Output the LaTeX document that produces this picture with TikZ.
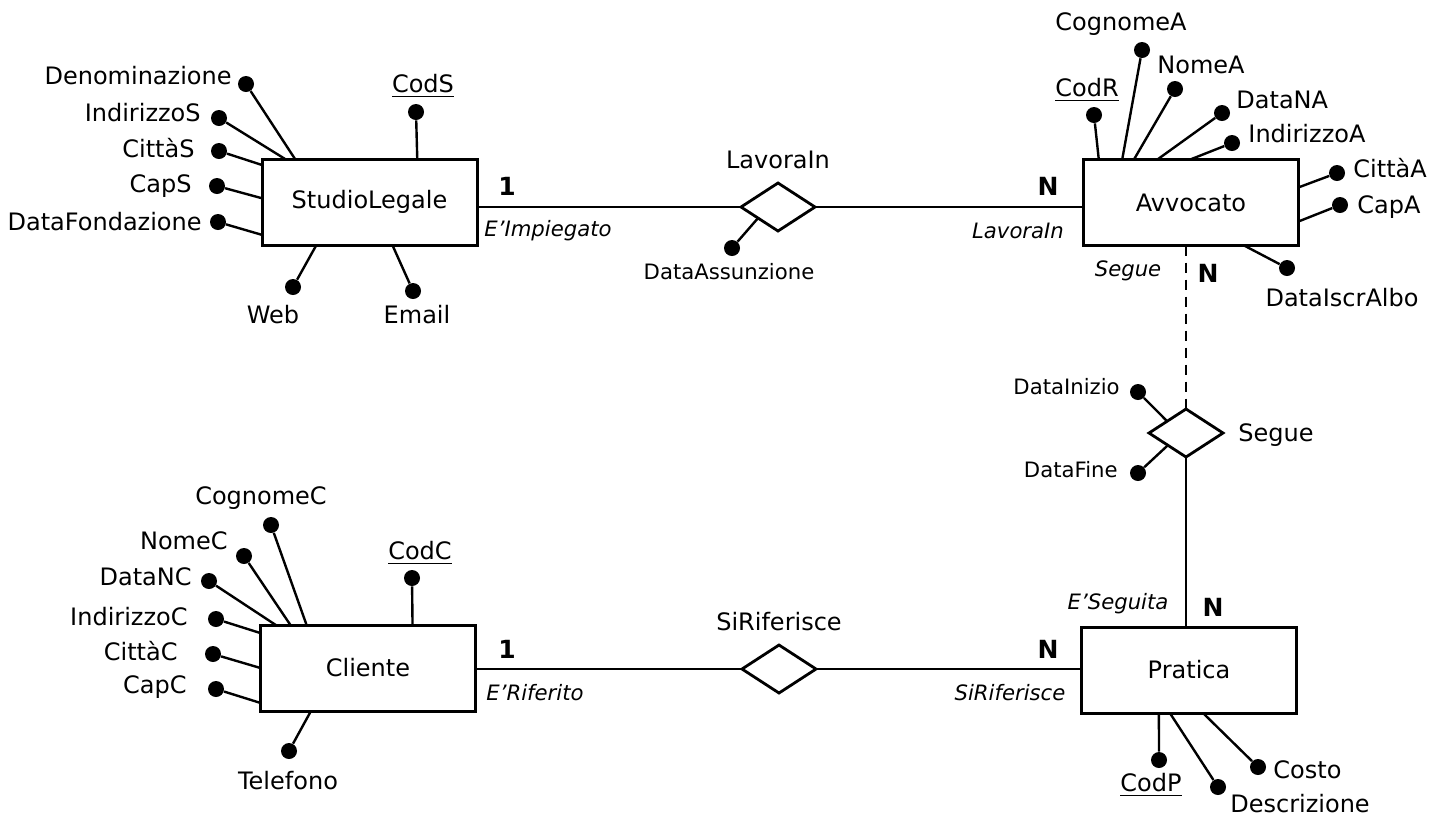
\documentclass[tikz,border=0pt]{standalone}
\usepackage{fontspec}
\setmainfont{DejaVu Sans}
\usetikzlibrary{shapes.geometric}
\tikzset{
  entity/.style={draw, line width=1.5pt, minimum width=107.5pt, minimum height=43pt, inner sep=0pt, outer sep=0pt, font=\fontsize{12}{14}\selectfont},
  relation/.style={draw, diamond, line width=1.4pt, minimum width=37pt, minimum height=24pt, inner sep=0pt, outer sep=0pt},
  attrdot/.style={circle, fill, inner sep=0pt, minimum size=8pt},
  attr/.style={inner sep=0pt, font=\fontsize{12}{14}\selectfont},
  smallattr/.style={inner sep=0pt, font=\fontsize{10.6}{12.6}\selectfont},
  card/.style={inner sep=0pt, font=\fontsize{12.5}{14}\selectfont\bfseries},
  role/.style={inner sep=0pt, font=\fontsize{10.6}{12.6}\selectfont\itshape},
  conn/.style={line width=1.2pt}
}
\begin{document}
\begin{tikzpicture}[x=0.5pt, y=-0.5pt]
  \useasboundingbox (0,0) rectangle (1443,816);
  % entities and relationships
  \node[entity] (sl) at (369.5,202) {StudioLegale};
  \node[entity] (avv) at (1191,202.5) {Avvocato};
  \node[entity] (cli) at (368,668) {Cliente};
  \node[entity] (pra) at (1189,670) {Pratica};
  \node[relation] (lav) at (778,207) {};
  \node[relation] (seg) at (1186,433) {};
  \node[relation] (rif) at (779,669) {};
  \node[attr] (tlav) at (778,160) {LavoraIn};
  \node[attr, anchor=west] (tseg) at (1238,435) {Segue};
  \node[attr] (trif) at (779,622) {SiRiferisce};
  \draw[conn] (sl.east |- lav) -- (lav.west);
  \draw[conn] (lav.east) -- (avv.west |- lav);
  \draw[conn, dash pattern=on 5pt off 3.5pt] (seg.north |- avv.south) -- (seg.north);
  \draw[conn] (seg.south) -- (seg.south |- pra.north);
  \draw[conn] (cli.east |- rif) -- (rif.west);
  \draw[conn] (rif.east) -- (pra.west |- rif);
  % cardinalities and roles
  \node[card] (c1) at (507,186) {1};
  \node[role] (r1) at (548,231) {E’Impiegato};
  \node[card] (c2) at (1048,186) {N};
  \node[role] (r2) at (1018,231) {LavoraIn};
  \node[role] (r3) at (1128,271) {Segue};
  \node[card] (c3) at (1208,273) {N};
  \node[role] (r4) at (1118,604) {E’Seguita};
  \node[card] (c4) at (1213,607) {N};
  \node[card] (c5) at (507,649) {1};
  \node[role] (r5) at (535,693) {E’Riferito};
  \node[card] (c6) at (1048,649) {N};
  \node[role] (r6) at (1010,693) {SiRiferisce};
  % StudioLegale attributes
  \node[attrdot] (dDen) at (246,84) {};   \node[attr, anchor=east] (tDen) at (232,76) {Denominazione};
  \node[attrdot] (dIndS) at (219,118) {}; \node[attr, anchor=east] (tIndS) at (201,113) {IndirizzoS};
  \node[attrdot] (dCitS) at (219,151) {}; \node[attr, anchor=east] (tCitS) at (195,148) {CittàS};
  \node[attrdot] (dCapS) at (217,186) {}; \node[attr, anchor=east] (tCapS) at (192,186) {CapS};
  \node[attrdot] (dDatF) at (218,222) {}; \node[attr, anchor=east] (tDatF) at (202,222) {DataFondazione};
  \node[attrdot] (dCodS) at (416,112) {}; \node[attr] (tCodS) at (423,86) {\underline{CodS}};
  \node[attrdot] (dWeb) at (293,287) {};  \node[attr] (tWeb) at (273,315) {Web};
  \node[attrdot] (dMail) at (413,291) {}; \node[attr] (tMail) at (417,315) {Email};
  \draw[conn] (dDen) -- (sl.150.3);
  \draw[conn] (dIndS) -- (sl.153);
  \draw[conn] (dCitS) -- (sl.161.5);
  \draw[conn] (dCapS) -- (sl.178.9);
  \draw[conn] (dDatF) -- (sl.197.6);
  \draw[conn] (dCodS) -- (sl.42.8);
  \draw[conn] (dWeb) -- (sl.219.3);
  \draw[conn] (dMail) -- (sl.298.7);
  % LavoraIn attribute
  \node[attrdot] (dAss) at (732,248) {}; \node[smallattr] (tAss) at (729,272) {DataAssunzione};
  \draw[conn] (dAss) -- (lav.209);
  % Avvocato attributes
  \node[attrdot] (dCodR) at (1094,115) {}; \node[attr] (tCodR) at (1087,90) {\underline{CodR}};
  \node[attrdot] (dCogA) at (1142,50) {};  \node[attr] (tCogA) at (1121,24) {CognomeA};
  \node[attrdot] (dNomA) at (1175,89) {};  \node[attr, anchor=west] (tNomA) at (1157,65) {NomeA};
  \node[attrdot] (dDatA) at (1222,113) {}; \node[attr, anchor=west] (tDatA) at (1236,100) {DataNA};
  \node[attrdot] (dIndA) at (1232,143) {}; \node[attr, anchor=west] (tIndA) at (1248,134) {IndirizzoA};
  \node[attrdot] (dCitA) at (1337,173) {}; \node[attr, anchor=west] (tCitA) at (1353,168) {CittàA};
  \node[attrdot] (dCapA) at (1340,205) {}; \node[attr, anchor=west] (tCapA) at (1357,207) {CapA};
  \node[attrdot] (dAlbo) at (1287,268) {}; \node[attr] (tAlbo) at (1342,298) {DataIscrAlbo};
  \draw[conn] (dCodR) -- (avv.155.8);
  \draw[conn] (dCogA) -- (avv.148.9);
  \draw[conn] (dNomA) -- (avv.143.6);
  \draw[conn] (dDatA) -- (avv.128);
  \draw[conn] (dIndA) -- (avv.91.3);
  \draw[conn] (dCitA) -- (avv.8.2);
  \draw[conn] (dCapA) -- (avv.350.8);
  \draw[conn] (dAlbo) -- (avv.321.1);
  % Segue attributes
  \node[attrdot] (dIni) at (1138,392) {}; \node[smallattr, anchor=east] (tIni) at (1120,387) {DataInizio};
  \node[attrdot] (dFin) at (1138,473) {}; \node[smallattr, anchor=east] (tFin) at (1118,470) {DataFine};
  \draw[conn] (dIni) -- (seg.148);
  \draw[conn] (dFin) -- (seg.214);
  % Cliente attributes
  \node[attrdot] (dCodC) at (412,578) {}; \node[attr] (tCodC) at (420,553) {\underline{CodC}};
  \node[attrdot] (dCogC) at (271,525) {}; \node[attr] (tCogC) at (261,498) {CognomeC};
  \node[attrdot] (dNomC) at (244,556) {}; \node[attr, anchor=east] (tNomC) at (228,541) {NomeC};
  \node[attrdot] (dDatC) at (209,581) {}; \node[attr, anchor=east] (tDatC) at (192,577) {DataNC};
  \node[attrdot] (dIndC) at (216,619) {}; \node[attr, anchor=east] (tIndC) at (188,617) {IndirizzoC};
  \node[attrdot] (dCitC) at (213,654) {}; \node[attr, anchor=east] (tCitC) at (178,651) {CittàC};
  \node[attrdot] (dCapC) at (216,689) {}; \node[attr, anchor=east] (tCapC) at (187,687) {CapC};
  \node[attrdot] (dTel) at (289,751) {};  \node[attr] (tTel) at (288,781) {Telefono};
  \draw[conn] (dCodC) -- (cli.44.3);
  \draw[conn] (dCogC) -- (cli.145.3);
  \draw[conn] (dNomC) -- (cli.151.4);
  \draw[conn] (dDatC) -- (cli.155.2);
  \draw[conn] (dIndC) -- (cli.162.5);
  \draw[conn] (dCitC) -- (cli.180.5);
  \draw[conn] (dCapC) -- (cli.198.4);
  \draw[conn] (dTel) -- (cli.217.5);
  % Pratica attributes
  \node[attrdot] (dCodP) at (1159,760) {}; \node[attr] (tCodP) at (1151,785) {\underline{CodP}};
  \node[attrdot] (dDesc) at (1218,787) {}; \node[attr] (tDesc) at (1300,804) {Descrizione};
  \node[attrdot] (dCost) at (1258,767) {}; \node[attr, anchor=west] (tCost) at (1273,770) {Costo};
  \draw[conn] (dCodP) -- (pra.235.1);
  \draw[conn] (dDesc) -- (pra.246.2);
  \draw[conn] (dCost) -- (pra.288);
\end{tikzpicture}
\end{document}
